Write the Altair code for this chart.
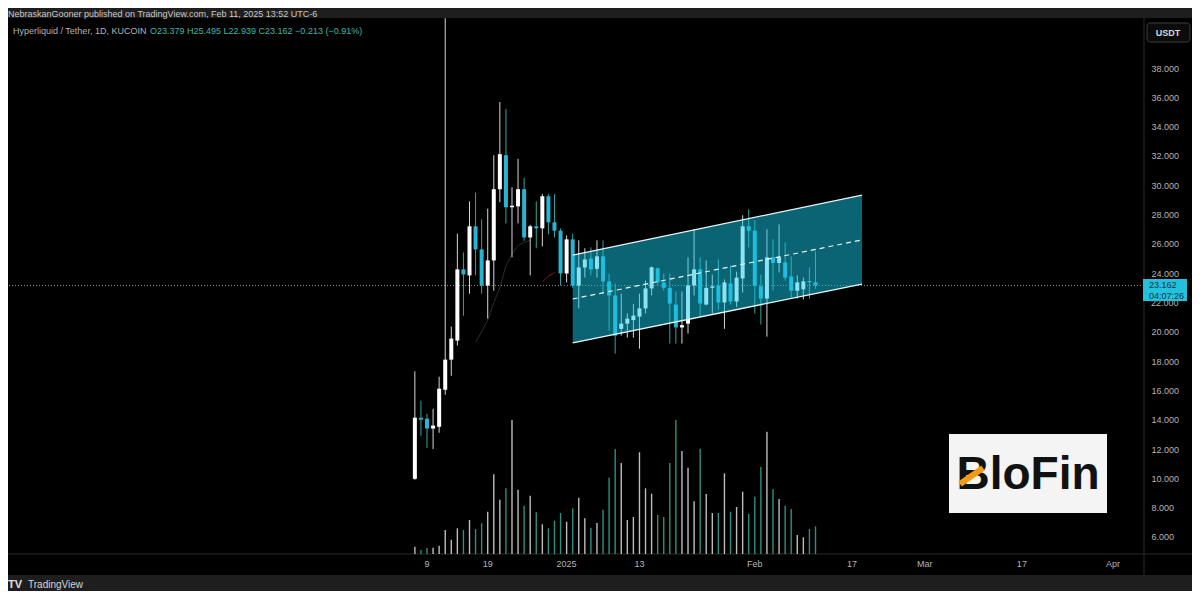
import altair as alt
import pandas as pd

# ---------------- data ----------------
dates = [d.strftime("%Y-%m-%dT00:00:00Z") for d in pd.date_range("2024-12-07", "2025-02-11", freq="D")]
opens = [9.97, 14.14, 14.07, 13.40, 13.52, 16.05, 18.10, 19.40, 24.26, 23.85,
         27.20, 25.62, 23.16, 24.87, 29.73, 32.05, 28.50, 28.56, 29.73, 26.44,
         27.20, 27.06, 29.25, 27.47, 26.90, 23.98, 26.31, 23.16, 24.39, 25.00,
         24.30, 25.15, 23.44, 22.48, 20.20, 20.56, 20.80, 21.04, 21.60, 22.96,
         24.33, 23.37, 23.00, 21.86, 20.30, 20.56, 23.16, 24.26, 21.86, 23.00,
         23.16, 22.00, 23.30, 22.07, 23.64, 27.20, 26.90, 23.10, 22.27, 25.08,
         24.70, 24.73, 23.78, 22.80, 22.90, 23.44, 23.379]
highs = [17.30, 15.30, 14.41, 14.75, 16.94, 41.40, 20.36, 26.70, 25.42, 28.90,
         29.50, 27.67, 28.40, 32.05, 35.68, 35.20, 29.86, 31.80, 30.50, 27.30,
         28.90, 29.40, 29.40, 29.40, 27.06, 26.58, 26.70, 26.24, 25.70, 25.76,
         26.24, 26.24, 23.98, 23.30, 22.60, 21.25, 21.90, 22.60, 23.50, 24.46,
         24.40, 23.98, 23.98, 22.75, 22.75, 25.08, 27.00, 25.08, 24.87, 23.90,
         24.94, 23.57, 24.53, 24.10, 27.95, 28.36, 27.60, 23.90, 27.00, 26.31,
         27.33, 26.10, 25.15, 23.85, 23.70, 24.40, 25.495]
lows = [9.90, 12.90, 12.08, 12.00, 13.11, 15.70, 17.00, 19.06, 21.10, 22.60,
        23.85, 22.60, 20.90, 22.80, 28.84, 27.40, 25.08, 27.40, 26.20, 23.85,
        25.70, 25.83, 26.65, 26.44, 23.16, 23.37, 23.00, 21.60, 23.70, 23.85,
        23.70, 22.60, 20.09, 18.51, 19.74, 19.60, 19.60, 18.85, 21.25, 22.48,
        23.16, 22.80, 19.20, 19.20, 19.20, 19.88, 22.48, 20.97, 21.80, 21.25,
        21.50, 20.20, 21.86, 21.70, 22.68, 25.76, 21.25, 20.50, 19.67, 22.82,
        24.05, 23.50, 22.34, 22.27, 22.20, 22.27, 22.939]
closes = [14.14, 14.00, 13.40, 13.60, 16.12, 18.10, 19.54, 24.26, 23.91, 27.20,
          25.62, 23.16, 24.87, 29.73, 32.12, 28.50, 28.60, 29.73, 26.44, 27.20,
          27.06, 29.25, 27.47, 26.90, 23.98, 26.31, 23.16, 24.39, 24.94, 24.26,
          25.15, 23.44, 22.48, 19.74, 20.56, 20.90, 21.10, 21.60, 22.96, 24.40,
          23.37, 23.00, 21.93, 20.30, 20.45, 23.16, 24.26, 21.93, 23.00, 23.10,
          22.00, 23.37, 22.07, 23.70, 27.20, 26.90, 23.16, 22.27, 25.08, 24.70,
          25.10, 23.70, 22.80, 23.37, 23.44, 23.38, 23.162]
volumes = [0.73, 0.40, 0.60, 0.63, 0.83, 2.40, 1.43, 2.57, 2.40, 3.40,
           2.50, 3.07, 4.23, 7.97, 5.43, 6.57, 13.40, 6.43, 4.83, 5.83,
           4.17, 2.97, 2.57, 3.33, 4.10, 3.23, 4.57, 5.63, 3.57, 2.63,
           3.10, 4.43, 7.63, 10.50, 9.10, 3.40, 3.70, 10.17, 6.57, 6.03,
           3.90, 3.70, 9.10, 13.40, 10.30, 8.63, 5.27, 10.53, 6.00, 4.10,
           4.10, 8.07, 4.23, 4.70, 6.23, 4.00, 5.73, 8.70, 12.23, 6.50,
           5.50, 4.83, 4.50, 1.90, 1.67, 2.50, 2.77]

# moving-average style overlays (faint)
ma_dates = ["2024-12-17", "2024-12-18", "2024-12-19", "2024-12-20", "2024-12-21",
            "2024-12-22", "2024-12-23", "2024-12-24", "2024-12-25", "2024-12-26"]
ma_values = [19.3, 20.0, 20.8, 22.0, 23.0, 24.5, 25.3, 25.9, 26.1, 26.25]
red_dates = ["2024-12-28", "2024-12-29", "2024-12-30"]
red_values = [23.4, 23.8, 24.05]

# parallel channel (two anchor points)
chan_dates = ["2025-01-02T00:00:00Z", "2025-02-18T16:00:00Z"]
chan_hi = [25.24, 29.33]
chan_lo = [19.24, 23.26]
chan_mid = [22.24, 26.27]

# axis labels
price_ticks = [v for v in range(6, 40, 2) if v != 22]
hidden_tick = [22]
xlab_dates = ["2024-12-09", "2024-12-19", "2025-01-01", "2025-01-13", "2025-02-01",
              "2025-02-17", "2025-03-01", "2025-03-17", "2025-04-01"]
xlab_text = ["9", "19", "2025", "13", "Feb", "17", "Mar", "17", "Apr"]

last_price = 23.162

# ---------------- geometry / styles ----------------
W, H = 1136, 536
FONT = "Liberation Sans"
ref = pd.Timestamp("2024-12-09", tz="UTC").value // 10**6
DAY = 86400000
x_domain = [ref - 69.03 * DAY, ref + 118.12 * DAY]
xscale = alt.Scale(type="utc", domain=x_domain)
yscale = alt.Scale(domain=[4.84, 41.412], nice=False, zero=False)
vscale = alt.Scale(domain=[0, 53.6], nice=False, zero=False)

UP = "#ffffff"
DOWN = "#27b5d6"

df = pd.DataFrame({"date": dates, "open": opens, "high": highs, "low": lows,
                   "close": closes, "volume": volumes})
base = alt.Chart(df).transform_calculate(
    up="datum.close >= datum.open",
    blo="min(datum.open, datum.close)",
    bhi="max(max(datum.open, datum.close), min(datum.open, datum.close) + 0.09)",
)
X = alt.X("date:T", scale=xscale, axis=None)

dummy = alt.Chart(pd.DataFrame({"k": [0]}))

pane = dummy.mark_rect(color="#000000").encode(
    x=alt.value(0), x2=alt.value(1184), y=alt.value(0), y2=alt.value(557))

hsep = dummy.mark_rule(color="#2a2a2a", strokeWidth=1).encode(
    x=alt.value(0), x2=alt.value(1184), y=alt.value(536))
vsep = dummy.mark_rule(color="#2a2a2a", strokeWidth=1).encode(
    x=alt.value(1136), y=alt.value(0), y2=alt.value(557))

volume = base.mark_rule(strokeWidth=1.4).encode(
    x=X,
    y=alt.Y("volume:Q", scale=vscale, axis=None),
    y2=alt.value(536),
    color=alt.condition("datum.up", alt.value("#bdbdbd"), alt.value("#2e8f80")),
)

ma = alt.Chart(pd.DataFrame({"d": ma_dates, "v": ma_values})).mark_line(
    color="#2c2c2c", strokeWidth=1).encode(
    x=alt.X("d:T", scale=xscale, axis=None),
    y=alt.Y("v:Q", scale=yscale, axis=None))
red = alt.Chart(pd.DataFrame({"d": red_dates, "v": red_values})).mark_line(
    color="#8a1c1c", strokeWidth=1).encode(
    x=alt.X("d:T", scale=xscale, axis=None),
    y=alt.Y("v:Q", scale=yscale, axis=None))

price_line = alt.Chart(pd.DataFrame({"p": [last_price]})).mark_rule(
    color="#8c8c8c", strokeDash=[1, 2], strokeWidth=1).encode(
    y=alt.Y("p:Q", scale=yscale,
            axis=alt.Axis(orient="right", values=price_ticks, format=".3f",
                          labelColor="#b4b4b4", labelFontSize=9, labelFont=FONT,
                          labelPadding=7, ticks=False, domain=False, grid=False,
                          title=None, zindex=1)))

# the 22.000 label sits mostly under the price tag
hidden_lab = alt.Chart(pd.DataFrame({"p": hidden_tick})).transform_calculate(
    lab="format(datum.p, '.3f')").mark_text(
    color="#b4b4b4", fontSize=9, font=FONT, align="left", baseline="middle").encode(
    x=alt.value(1143), y=alt.Y("p:Q", scale=yscale, axis=None), text="lab:N")

wicks = base.mark_rule(strokeWidth=1).encode(
    x=X,
    y=alt.Y("low:Q", scale=yscale, axis=None),
    y2="high:Q",
    color=alt.condition("datum.up", alt.value("#d6d6d6"), alt.value("#2fa6a0")),
)
bodies = base.mark_rule(strokeWidth=4, strokeCap="butt").encode(
    x=X,
    y=alt.Y("blo:Q", scale=yscale, axis=None),
    y2="bhi:Q",
    color=alt.condition("datum.up", alt.value(UP), alt.value(DOWN)),
)

cdf = pd.DataFrame({"t": chan_dates, "hi": chan_hi, "lo": chan_lo, "mid": chan_mid})
CX = alt.X("t:T", scale=xscale, axis=None)
chan_fill = alt.Chart(cdf).mark_area(color="#16c8e8", opacity=0.5).encode(
    x=CX, y=alt.Y("hi:Q", scale=yscale, axis=None), y2="lo:Q")
chan_hi_l = alt.Chart(cdf).mark_line(color="#e8f6f8", strokeWidth=1.3).encode(
    x=CX, y=alt.Y("hi:Q", scale=yscale, axis=None))
chan_lo_l = alt.Chart(cdf).mark_line(color="#e8f6f8", strokeWidth=1.3).encode(
    x=CX, y=alt.Y("lo:Q", scale=yscale, axis=None))
chan_mid_l = alt.Chart(cdf).mark_line(color="#e8f6f8", strokeWidth=1.2,
                                      strokeDash=[5, 4]).encode(
    x=CX, y=alt.Y("mid:Q", scale=yscale, axis=None))

xlabels = alt.Chart(pd.DataFrame({"d": xlab_dates, "t": xlab_text})).mark_text(
    color="#b4b4b4", fontSize=9, font=FONT, baseline="middle", align="center").encode(
    x=alt.X("d:T", scale=xscale, axis=None), y=alt.value(546), text="t:N")

# header texts
hdr1 = dummy.mark_text(text="NebraskanGooner published on TradingView.com, Feb 11, 2025 13:52 UTC-6",
                       color="#c9c9c9", fontSize=9, font=FONT, align="left",
                       baseline="middle").encode(x=alt.value(0), y=alt.value(-4.5))
hdr2 = dummy.mark_text(text="Hyperliquid / Tether, 1D, KUCOIN", color="#b4b4b4",
                       fontSize=9, font=FONT, align="left",
                       baseline="middle").encode(x=alt.value(5), y=alt.value(13))
hdr3 = dummy.mark_text(text="O23.379  H25.495  L22.939  C23.162  \u22120.213 (\u22120.91%)",
                       color="#3fb7a6", fontSize=9, font=FONT, align="left",
                       baseline="middle").encode(x=alt.value(142), y=alt.value(13))

# USDT box
usdt_box = dummy.mark_rect(color="#0b0b0b", stroke="#3c3c3c", strokeWidth=1,
                           cornerRadius=3).encode(
    x=alt.value(1139), x2=alt.value(1182), y=alt.value(5), y2=alt.value(24))
usdt_txt = dummy.mark_text(text="USDT", color="#d8d8d8", fontSize=9, font=FONT,
                           fontWeight="bold", align="center",
                           baseline="middle").encode(x=alt.value(1160), y=alt.value(14.5))

# price tag
tag = dummy.mark_rect(color="#22c1dc").encode(
    x=alt.value(1135), x2=alt.value(1179), y=alt.value(261), y2=alt.value(283))
tag1 = dummy.mark_text(text="23.162", color="#0d3347", fontSize=9, font=FONT,
                       align="left", baseline="middle").encode(x=alt.value(1141), y=alt.value(267))
tag2 = dummy.mark_text(text="04:07:26", color="#0d3347", fontSize=9, font=FONT,
                       align="left", baseline="middle").encode(x=alt.value(1141), y=alt.value(278))

# BloFin logo
logo_bg = dummy.mark_rect(color="#f4f4f4").encode(
    x=alt.value(941), x2=alt.value(1099), y=alt.value(416), y2=alt.value(495))
logo_txt = dummy.mark_text(text="BloFin", color="#111111", fontSize=46,
                           font=FONT, fontWeight="bold",
                           align="center", baseline="middle").encode(
    x=alt.value(1020), y=alt.value(457))
logo_slash = dummy.mark_rule(color="#f39a16", strokeWidth=6).encode(
    x=alt.value(952), x2=alt.value(975), y=alt.value(466), y2=alt.value(450))

# footer
tv_logo = dummy.mark_text(text="TV", color="#e0e0e0", fontSize=11, font=FONT,
                          fontWeight="bold", align="left",
                          baseline="middle").encode(x=alt.value(0), y=alt.value(567))
tv_txt = dummy.mark_text(text="TradingView", color="#d6d6d6", fontSize=10, font=FONT,
                         align="left", baseline="middle").encode(x=alt.value(20), y=alt.value(567))

chart = alt.layer(
    pane, hsep, vsep, volume, ma, red, price_line, wicks, bodies,
    chan_fill, chan_hi_l, chan_lo_l, chan_mid_l, xlabels, hidden_lab,
    hdr1, hdr2, hdr3, usdt_box, usdt_txt, tag, tag1, tag2,
    logo_bg, logo_txt, logo_slash, tv_logo, tv_txt,
).resolve_scale(y="independent").properties(
    width=W, height=H,
    autosize=alt.AutoSizeParams(type="none"),
    padding={"left": 0, "top": 10, "right": 48, "bottom": 37},
    background="#1e1e1e",
).configure_view(stroke=None)

chart.save("out.html", embed_options={"renderer": "svg", "actions": False})
